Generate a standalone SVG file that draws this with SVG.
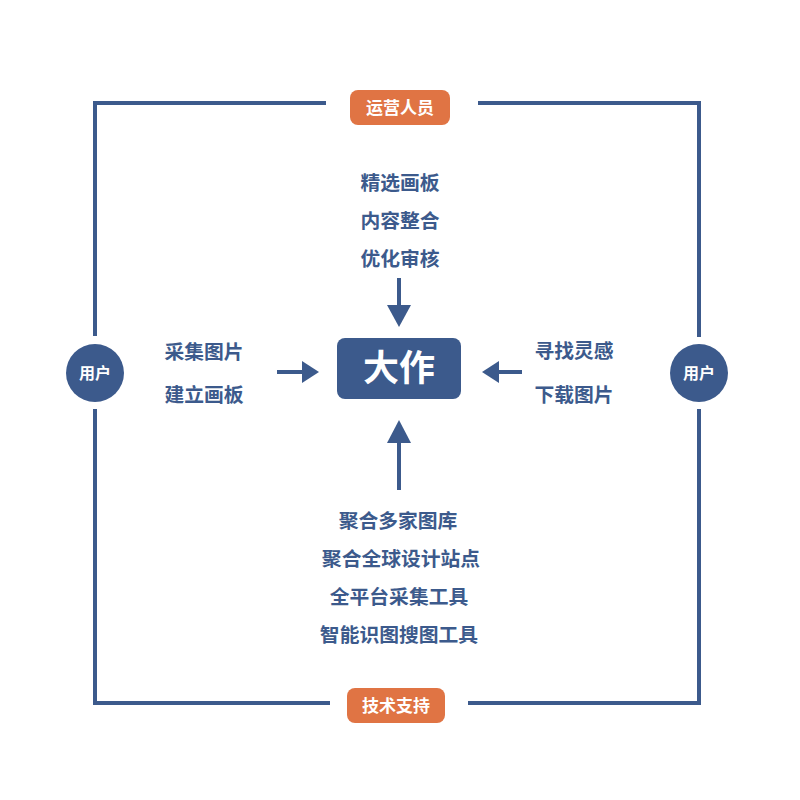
<svg xmlns="http://www.w3.org/2000/svg" width="800" height="800" viewBox="0 0 800 800">
<defs>
<style>
.frame{stroke:#3C5A8C;stroke-width:4;fill:none}
.arr{stroke:#3C5A8C;stroke-width:4;fill:none}
.head{fill:#3C5A8C}
.t{font-family:"Noto Sans CJK SC","Noto Sans",sans-serif;font-weight:bold;font-size:19.8px;fill:#3C5A8C}
.badge{fill:#E07444}
.bt{font-family:"Noto Sans CJK SC","Noto Sans",sans-serif;font-weight:bold;font-size:17px;fill:#ffffff}
.user{fill:#3C5A8C}
.ut{font-family:"Noto Sans CJK SC","Noto Sans",sans-serif;font-weight:bold;font-size:16px;fill:#ffffff}
</style>
</defs>
<rect width="800" height="800" fill="#ffffff"/>
<g id="connectors">
<path class="frame" d="M326 103 H95 V336 M95 409 V703 H330 M468 703 H699 V409 M699 337 V103 H478"/>
<line class="arr" x1="399" y1="278" x2="399" y2="308"/>
<polygon class="head" points="387,305 411,305 399,327"/>
<line class="arr" x1="399" y1="490" x2="399" y2="440"/>
<polygon class="head" points="387,443 411,443 399,420"/>
<line class="arr" x1="277" y1="372" x2="305" y2="372"/>
<polygon class="head" points="302,361 302,383 319,372"/>
<line class="arr" x1="522" y1="372" x2="496" y2="372"/>
<polygon class="head" points="499,361 499,383 482,372"/>
</g>
<g id="ops">
<rect class="badge" x="350" y="90" width="100" height="35" rx="8"/>
<text class="bt" x="400" y="113.5" text-anchor="middle">运营人员</text>
</g>
<g id="tech">
<rect class="badge" x="347" y="688" width="98" height="35" rx="8"/>
<text class="bt" x="396" y="711.5" text-anchor="middle">技术支持</text>
</g>
<g id="user-left">
<circle class="user" cx="95" cy="373" r="29"/>
<text class="ut" x="95" y="378.5" text-anchor="middle">用户</text>
</g>
<g id="user-right">
<circle class="user" cx="699" cy="373" r="29"/>
<text class="ut" x="699" y="378.5" text-anchor="middle">用户</text>
</g>
<g id="center">
<rect x="337" y="338" width="124" height="61" rx="8" fill="#3C5A8C"/>
<text x="399" y="381" text-anchor="middle" font-family="Noto Sans CJK SC,Noto Sans,sans-serif" font-weight="bold" font-size="36" fill="#ffffff">大作</text>
</g>
<g id="top-list">
<text class="t" x="400" y="190" text-anchor="middle">精选画板</text>
<text class="t" x="400" y="228" text-anchor="middle">内容整合</text>
<text class="t" x="400" y="266" text-anchor="middle">优化审核</text>
</g>
<g id="left-list">
<text class="t" x="204" y="359" text-anchor="middle">采集图片</text>
<text class="t" x="204" y="402" text-anchor="middle">建立画板</text>
</g>
<g id="right-list">
<text class="t" x="574" y="358" text-anchor="middle">寻找灵感</text>
<text class="t" x="574" y="402" text-anchor="middle">下载图片</text>
</g>
<g id="bottom-list">
<text class="t" x="398" y="528" text-anchor="middle">聚合多家图库</text>
<text class="t" x="401" y="566" text-anchor="middle">聚合全球设计站点</text>
<text class="t" x="399" y="604" text-anchor="middle">全平台采集工具</text>
<text class="t" x="399" y="642" text-anchor="middle">智能识图搜图工具</text>
</g>
</svg>
